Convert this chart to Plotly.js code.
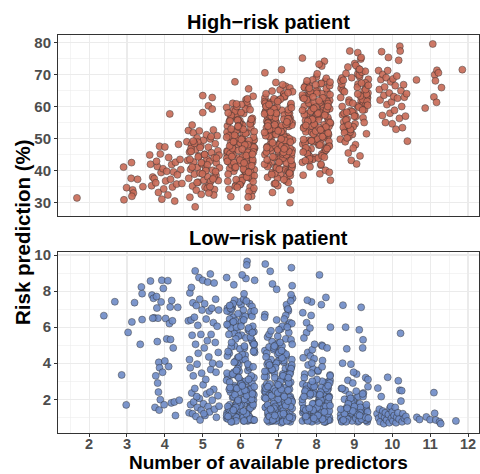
<!DOCTYPE html>
<html>
<head>
<meta charset="utf-8">
<script src="https://cdn.plot.ly/plotly-3.0.1.min.js"></script>
<style>html,body{margin:0;padding:0;background:#fff;}#chart{width:480px;height:474px;}</style>
</head>
<body>
<div id="chart"></div>
<script>
// ---------- High-risk patient (jittered points, grouped by number of predictors) ----------
const hi2x = [1.68];
const hi2y = [31.5];
const hi3x = [2.91,2.92,2.99,3.12,3.11,3.15,3.17,3.13,3.28,3.42];
const hi3y = [41.1,30.9,34.7,42.5,37.6,34.0,33.0,32.0,37.3,35.0];
const hi4x = [3.60,3.62,3.65,3.68,3.72,3.76,3.80,3.83,3.86,3.88,3.90,3.92,3.95,3.97,4.00,4.02,4.05,4.08,4.10,4.13,4.15,4.18,4.20,4.23,4.26,4.28,4.31,4.36,4.40,4.42,4.45,4.33,3.78];
const hi4y = [44.9,42.0,35.3,38.0,37.5,36.2,41.3,33.2,47.6,45.2,39.4,31.1,40.6,34.3,47.4,36.8,39.8,32.4,44.1,57.7,37.3,41.9,34.9,39.6,30.5,42.6,35.8,48.2,43.5,40.3,36.0,38.7,42.9];
const hi5x = [4.58,4.60,4.62,4.63,4.65,4.66,4.68,4.70,4.72,4.73,4.75,4.76,4.78,4.80,4.81,4.83,4.85,4.86,4.88,4.90,4.91,4.93,4.95,4.96,4.98,5.00,5.00,5.02,5.03,5.05,5.06,5.08,5.10,5.11,5.13,5.15,5.15,5.17,5.18,5.20,5.21,5.23,5.25,5.25,5.26,5.28,5.30,5.31,5.33,5.35,5.36,5.38,5.40,5.41,5.43,5.44,5.29,4.69,4.87,5.12,
4.66,5.30,4.93,5.12,4.72,5.22,4.85,5.05,5.34,4.78,5.16,4.96,4.69,5.27,4.88,5.08,4.75,5.19,5.36,4.99];
const hi5y = [49.0,43.2,52.5,37.6,45.8,31.7,40.4,48.1,54.2,35.2,51.8,42.7,38.9,28.7,46.5,33.9,50.2,41.0,36.4,44.6,52.4,39.2,47.8,32.6,42.1,63.4,58.1,49.5,37.0,45.1,34.8,40.7,51.2,43.6,38.1,60.2,47.3,35.6,42.9,49.9,36.7,45.6,62.8,59.2,40.1,52.7,44.0,34.1,48.4,38.5,42.4,50.9,46.2,36.9,44.8,40.9,32.4,46.9,48.9,41.8,
43.5,38.0,47.2,34.5,41.1,50.6,36.3,45.0,39.7,48.5,33.0,42.5,46.0,37.4,44.3,40.0,49.2,35.0,43.9,39.0];
const hi6x = [5.64,5.96,6.26,5.77,6.10,6.34,5.87,6.19,5.69,6.03,6.30,5.82,6.14,5.66,6.07,6.23,5.91,6.32,5.74,6.12,5.98,6.28,5.80,6.16,5.68,6.05,6.25,5.86,6.36,5.93,
6.21,5.72,6.09,5.63,6.31,5.90,6.01,5.75,6.18,6.37,5.84,6.08,5.69,6.26,5.95,6.14,5.79,6.35,5.88,6.03,5.65,6.20,5.92,6.29,5.81,6.11,5.71,6.33,5.99,6.17,
5.85,6.24,5.67,6.06,6.31,5.78,6.13,5.97,6.36,5.73,6.09,5.89,6.22,5.64,6.02,6.27,5.83,6.15,5.70,6.04,6.34,5.76,6.20,5.91,6.32,5.94,6.10,5.74,6.18,5.86,
6.08,5.80,6.29,5.97,6.16,5.67,6.23,5.86,6.04,6.32,5.74,6.12,5.93,6.26,5.64,6.19,5.90,6.35,5.78,6.00,
6.05,5.70,6.17,5.92,6.35,5.76,6.27,5.88,6.01,5.66,6.22,5.82,6.31,5.98,6.13,5.72,6.36,5.94,6.19,5.63,6.25,5.85,6.07,5.79,6.33,5.90,6.15,5.75,6.29,5.99,
5.75,6.12,5.94,6.30,5.65,6.02,6.20,5.84,6.34,5.89,6.07,5.71,6.25,5.98,6.16,5.63,6.28,5.91,6.11,5.77,6.36,5.87,6.04,5.67,6.21,5.93,6.31,5.81,6.09,5.72];
const hi6y = [45.2,52.8,38.6,57.1,41.9,49.3,35.4,60.2,43.7,54.5,47.9,39.8,62.1,36.7,51.4,44.6,58.3,33.8,48.7,41.2,
55.6,37.5,46.4,61.4,42.8,50.1,34.9,56.9,40.3,53.2,65.5,45.9,38.1,59.7,43.1,49.8,36.2,52.1,28.5,47.0,
41.6,57.8,34.2,55.0,44.0,39.3,61.0,46.8,50.7,37.0,53.9,42.3,48.2,32.0,58.9,45.5,40.7,63.2,35.8,51.9,
67.7,44.3,38.9,54.1,47.4,42.0,59.2,36.4,49.6,56.2,41.0,52.5,33.5,46.1,60.6,39.0,48.9,43.9,55.3,37.8,
50.5,45.0,31.8,57.4,42.6,53.6,40.0,47.6,62.4,35.1,49.1,44.9,38.3,54.8,41.4,51.1,46.6,58.6,36.9,43.4,
31.9,48.4,55.9,39.6,52.0,45.7,60.0,34.5,50.3,42.2,
44.2,50.8,39.1,55.7,47.3,41.8,53.4,37.2,58.1,46.0,49.4,42.5,56.3,35.6,51.6,45.3,38.4,54.0,48.1,43.8,
59.0,40.9,52.9,46.9,36.6,50.0,44.7,57.2,41.5,48.6,53.0,39.9,46.3,55.2,42.9,49.7,37.9,51.0,45.8,60.8,
40.5,47.7,54.6,43.3,38.0,50.4,56.0,34.8,48.0,44.4,52.2,41.1,46.7,58.0,39.5,53.8,45.1,49.0,42.4,55.5];
const hi7x = [6.85,7.24,6.67,7.06,7.31,6.78,7.13,6.97,7.36,6.73,7.09,6.89,7.22,6.64,7.02,7.27,6.83,7.15,6.70,7.04,7.34,6.76,7.20,6.91,7.32,6.94,7.10,6.74,7.18,6.86,
7.08,6.80,7.29,6.97,7.16,6.67,7.23,6.86,7.04,7.32,6.74,7.12,6.93,7.26,6.64,7.19,6.90,7.35,6.78,7.00,7.30,6.84,7.09,6.71,7.22,6.96,7.37,6.81,7.14,6.68,
6.64,6.96,7.26,6.77,7.10,7.34,6.87,7.19,6.69,7.03,7.30,6.82,7.14,6.66,7.07,7.23,6.91,7.32,6.74,7.12,6.98,7.28,6.80,7.16,6.68,7.05,7.25,6.86,7.36,6.93,
7.21,6.72,7.09,6.63,7.31,6.90,7.01,6.75,7.18,7.37,6.84,7.08,6.69,7.26,6.95,7.14,6.79,7.35,6.88,7.03,6.65,7.20,6.92,7.29,6.81,7.11,6.71,7.33,6.99,7.17,
6.63,7.15,6.83,7.28,6.95,
6.75,7.12,6.94,7.30,6.65,7.02,7.20,6.84,7.34,6.89,7.07,6.71,7.25,6.98,7.16,6.63,7.28,6.91,7.11,6.77,7.36,6.87,7.04,6.67,7.21,6.93,7.31,6.81,7.09,6.72,
7.05,6.70,7.17,6.92,7.35,6.76,7.27,6.88,7.01,6.66,7.22,6.82,7.31,6.98,7.13,6.72,7.36,6.94,7.19,6.63,7.25,6.85,7.07,6.79,7.33,6.90,7.15,6.75,7.29,6.99];
const hi7y = [52.3,44.8,60.1,38.7,56.4,48.2,63.5,41.5,54.9,46.7,58.8,35.9,50.6,62.7,43.3,53.8,39.4,57.3,47.5,65.2,
42.1,51.7,36.8,59.5,45.4,55.1,49.0,61.3,40.6,53.0,71.5,46.2,57.9,37.6,50.2,64.0,43.8,55.8,48.8,34.0,
60.7,52.7,41.0,58.1,45.0,66.3,39.1,54.2,47.1,62.0,30.0,51.2,44.2,56.7,38.2,59.9,49.5,42.7,63.9,53.4,
70.5,46.9,36.3,57.0,50.9,44.5,61.8,40.2,55.4,48.5,65.8,52.0,37.2,58.5,43.0,54.6,47.8,60.4,41.8,51.5,
35.3,56.1,49.8,63.0,45.8,53.5,39.8,59.2,46.4,67.5,42.4,55.0,50.0,61.5,38.5,57.6,44.0,52.5,48.0,64.6,
33.2,54.0,47.2,59.0,40.9,56.0,51.0,45.6,62.4,43.6,58.3,49.2,36.0,55.7,53.1,66.8,41.3,60.9,46.0,50.4,
57.7,44.7,64.8,39.5,52.9,
50.7,43.9,57.5,47.0,61.0,40.4,54.4,48.7,59.6,44.1,52.2,37.9,56.2,46.5,63.2,42.0,50.0,55.7,45.2,58.8,
41.4,53.2,48.3,60.0,44.9,51.3,39.6,57.0,47.7,54.8,62.3,43.4,49.4,56.5,40.8,52.8,46.0,59.3,42.6,50.9,
55.2,38.8,48.9,61.6,45.7,53.9,41.9,57.9,47.3,51.9,64.3,44.3,49.9,58.2,43.2,54.3,46.8,60.6,39.2,52.4];
const hi8x = [8.08,7.80,8.29,7.97,8.16,7.67,8.23,7.86,8.04,8.32,7.74,8.12,7.93,8.26,7.64,8.19,7.90,8.35,7.78,8.00,8.30,7.84,8.09,7.71,8.22,7.96,8.37,7.81,8.14,7.68,
8.21,7.72,8.09,7.63,8.31,7.90,8.01,7.75,8.18,8.37,7.84,8.08,7.69,8.26,7.95,8.14,7.79,8.35,7.88,8.03,7.65,8.20,7.92,8.29,7.81,8.11,7.71,8.33,7.99,8.17,
7.63,8.15,7.83,8.28,7.95,8.21,7.73,8.10,7.88,8.33,8.02,7.68,8.24,7.79,8.06,
7.64,7.96,8.26,7.77,8.10,8.34,7.87,8.19,7.69,8.03,8.30,7.82,8.14,7.66,8.07,8.23,7.91,8.32,7.74,8.12,7.98,8.28,7.80,8.16,7.68,8.05,8.25,7.86,8.36,7.93,
8.05,7.70,8.17,7.92,8.35,7.76,8.27,7.88,8.01,7.66,8.22,7.82,8.31,7.98,8.13,7.72,8.36,7.94,8.19,7.63,8.25,7.85,8.07,7.79,8.33,7.90,8.15,7.75,8.29,7.99,
7.75,8.12,7.94,8.30,7.65,8.02,8.20,7.84,8.34,7.89,8.07,7.71,8.25,7.98,8.16,7.63,8.28,7.91,8.11,7.77,8.36,7.87,8.04,7.67,8.21,7.93,8.31,7.81,8.09,7.72];
const hi8y = [57.2,49.5,64.3,44.1,60.8,53.6,67.9,46.8,58.9,51.2,62.5,41.7,55.4,65.6,48.3,59.7,43.5,61.9,52.8,69.2,
47.4,56.3,39.0,63.4,50.6,58.2,54.7,66.4,45.2,60.1,74.1,52.1,61.2,42.6,55.9,68.3,48.9,57.8,53.0,37.0,
63.9,56.8,46.1,62.0,50.0,72.6,44.8,59.3,51.9,65.0,38.6,54.3,49.0,60.5,43.0,67.1,55.6,47.9,64.8,58.6,
75.1,52.4,41.2,61.6,56.0,45.9,66.9,50.8,59.0,53.8,70.2,57.5,40.1,63.0,48.0,62.8,54.0,68.8,46.4,58.0,
39.5,60.3,51.5,65.9,49.8,56.6,44.4,64.0,53.3,73.2,47.0,59.6,55.1,62.3,42.0,57.0,50.3,61.0,52.6,66.0,
43.9,58.4,49.3,63.7,54.9,
55.8,48.6,62.7,51.4,66.5,45.3,59.1,53.9,64.1,49.7,57.3,43.7,60.9,52.3,67.2,47.1,55.0,61.4,50.2,63.6,
46.4,58.5,53.4,65.3,49.1,56.1,44.6,62.1,52.0,59.8,68.0,48.4,54.5,60.0,45.8,57.6,51.1,64.6,47.6,56.0,
61.8,43.1,53.6,66.8,50.6,58.8,46.9,63.0,52.7,55.4,67.6,49.3,57.9,62.5,44.2,59.4,51.7,65.7,48.0,54.1];
const hi9x = [9.21,8.72,9.09,8.63,9.31,8.90,9.01,8.75,9.18,9.37,8.84,9.08,8.69,9.26,8.95,9.14,8.79,9.35,8.88,9.03,8.65,9.20,8.92,9.29,8.81,9.11,8.71,9.33,8.99,9.17,
8.85,9.24,8.67,9.06,9.31,8.78,9.13,8.97,9.36,8.73,9.09,8.89,9.22,8.64,9.02,9.27,8.83,9.15,8.70,9.04,9.34,8.76,9.20,8.91,9.32,8.94,9.10,8.74,9.18,8.86,
9.08,8.80,9.29,8.97,9.16,8.67,9.23,8.86,9.04,9.32,8.74,9.12,8.93,9.26,8.64,9.19,8.90,9.35,8.78,9.00,9.30,8.84,9.09,8.71,9.22,8.96,9.37,8.81,9.14,8.68];
const hi9y = [63.5,55.2,70.1,49.8,66.2,58.7,73.4,52.6,61.8,68.5,45.5,60.2,57.4,64.9,51.3,69.3,54.0,62.7,77.3,48.1,
65.7,59.5,43.2,67.4,56.1,71.8,53.5,63.0,58.0,74.8,50.5,61.1,66.9,42.1,60.8,55.8,69.8,47.0,64.2,57.9,
76.8,52.0,62.2,68.0,54.6,59.0,72.3,44.6,65.0,56.9,61.6,49.0,70.7,53.0,63.8,58.4,67.0,51.8,75.3,62.0,
66.0,58.2,71.0,53.7,63.3,68.9,56.5,61.3,72.8,51.5,64.6,59.8,69.0,55.0,62.8,67.3,52.8,60.4,70.3,57.0,
65.3,54.2,63.9,68.2,58.9,61.0,66.6,50.2,71.6,60.0];
const hi10x = [9.64,9.66,9.68,9.70,9.72,9.74,9.75,9.78,9.80,9.82,9.84,9.86,9.88,9.90,9.92,9.94,9.96,9.98,10.00,10.02,10.04,10.06,10.08,10.10,10.12,10.14,10.17,10.19,10.20,10.21,10.23,10.25,10.27,10.30,10.32,10.35,10.38,10.40];
const hi10y = [71.2,65.3,62.0,68.4,77.1,57.2,70.0,63.5,66.1,55.0,69.0,60.6,71.2,75.3,64.2,57.9,67.7,61.4,54.6,68.6,63.1,58.8,66.5,52.9,69.5,62.6,74.4,56.3,78.8,77.3,64.9,60.0,53.4,66.8,62.9,57.0,64.0,49.2];
const hi11x = [10.64,10.87,11.07,11.10,11.12,11.18,11.22,11.14,11.30,11.17,11.85];
const hi11y = [68.3,59.5,79.5,63.0,69.9,71.3,70.5,68.0,65.9,61.3,71.5];

// ---------- Low-risk patient ----------
const lo3x = [2.39,2.68,2.86,2.98,3.03,3.13,3.20,3.35,3.38,3.40,3.40];
const lo3y = [6.64,7.41,3.35,1.69,5.71,6.29,7.36,5.05,8.23,7.86,6.42];
const lo4x = [3.62,3.66,3.70,3.72,3.74,3.76,3.78,3.79,3.80,3.81,3.82,3.83,3.84,3.85,3.86,3.88,3.90,3.92,3.94,3.96,3.98,4.00,4.02,4.05,4.08,4.10,4.12,4.14,4.15,4.17,4.18,4.20,4.22,4.25,4.28,4.34,4.38,3.68];
const lo4y = [8.56,7.78,7.60,6.52,1.55,3.30,7.70,7.06,5.20,2.90,6.50,2.40,4.05,1.40,3.75,1.98,7.40,8.60,3.50,8.15,1.70,4.12,6.48,5.35,8.58,3.82,6.20,7.12,5.32,1.80,7.48,6.35,4.85,1.85,1.10,7.10,1.95,6.50];
const lo5x = [4.62,4.64,4.65,4.66,4.67,4.68,4.69,4.70,4.71,4.72,4.73,4.74,4.75,4.76,4.78,4.79,4.80,4.81,4.82,4.83,4.85,4.86,4.87,4.88,4.90,4.91,4.92,4.93,4.95,4.96,4.97,4.98,5.00,5.01,5.02,5.04,5.05,5.06,5.08,5.09,5.10,5.12,5.13,5.14,5.16,5.17,5.18,5.20,5.21,5.22,5.24,5.25,5.26,5.28,5.29,5.30,5.31,5.33,5.34,5.35,5.36,5.38,5.40,5.41,5.42,5.43,5.44,4.84,5.03,5.19];
const lo5y = [6.35,1.25,4.20,7.90,3.75,1.70,6.40,8.20,2.35,5.55,1.20,7.35,3.30,1.85,6.55,2.60,9.12,5.05,1.05,7.20,3.95,1.55,6.10,4.55,8.75,2.05,7.55,0.85,5.60,1.40,3.45,6.95,8.60,2.80,1.75,4.85,7.30,1.10,3.10,6.45,2.30,5.25,8.50,1.60,4.35,6.90,1.30,8.95,3.65,5.60,7.05,1.95,4.00,6.25,2.55,8.45,1.45,5.15,7.55,3.50,1.00,6.05,2.20,4.60,6.95,1.62,3.95,2.15,1.20,2.40];
const lo6x = [6.21,5.72,6.09,5.63,6.31,5.90,6.01,5.75,6.18,6.37,5.84,6.08,5.69,6.26,5.95,6.14,5.79,6.35,5.88,6.03,5.65,6.20,5.92,6.29,5.81,6.11,5.71,6.33,5.99,6.17,
5.64,5.96,6.26,5.77,6.10,6.34,5.87,6.19,5.69,6.03,6.30,5.82,6.14,5.66,6.07,6.23,5.91,6.32,5.74,6.12,5.98,6.28,5.80,6.16,5.68,6.05,6.25,5.86,6.36,5.93,
6.08,5.80,6.29,5.97,6.16,5.67,6.23,5.86,6.04,6.32,5.74,6.12,5.93,6.26,5.64,6.19,5.90,6.35,5.78,6.00,6.30,5.84,6.09,5.71,6.22,5.96,6.37,5.81,6.14,5.68,
5.85,6.24,5.67,6.06,6.31,5.78,6.13,5.97,6.36,5.73,6.09,5.89,6.22,5.64,6.02,6.27,5.83,6.15,5.70,6.04,6.34,5.76,6.20,5.91,6.32,5.94,6.10,5.74,6.18,5.86,
5.63,6.15,5.83,6.28,5.95,
6.05,5.70,6.17,5.92,6.35,5.76,6.27,5.88,6.01,5.66,6.22,5.82,6.31,5.98,6.13,5.72,6.36,5.94,6.19,5.63,6.25,5.85,6.07,5.79,6.33,5.90,6.15,5.75,6.29,5.99,
5.75,6.12,5.94,6.30,5.65,6.02,6.20,5.84,6.34,5.89,6.07,5.71,6.25,5.98,6.16,5.63,6.28,5.91,6.11,5.77,6.36,5.87,6.04,5.67,6.21,5.93,6.31,5.81,6.09,5.72,
6.12,5.69,6.27,5.92,6.35,5.80,6.04,5.64,6.19,5.87,6.30,5.98,5.73,6.23,5.83,6.08,6.33,5.76,6.15,5.67,6.01,6.26,5.89,6.36,5.95,6.21,5.71,6.10,5.81,6.31];
const lo6y = [1.45,6.85,2.30,0.95,5.20,1.80,7.25,3.35,1.15,4.60,2.75,0.80,6.20,1.60,3.90,8.70,2.10,5.75,1.05,2.95,
7.05,1.35,4.30,0.90,6.55,2.45,1.70,5.10,3.05,9.65,1.25,7.40,2.60,0.75,4.85,1.95,6.35,3.60,1.50,5.55,
2.20,8.35,1.10,3.25,6.95,1.85,4.05,0.85,7.20,2.85,1.40,5.90,2.50,9.45,1.00,6.60,3.15,1.65,4.75,2.05,
7.55,1.20,5.30,2.70,0.95,6.10,3.75,1.55,8.90,2.35,1.30,4.45,6.75,1.90,3.45,0.80,5.80,2.25,7.10,1.15,
2.90,4.95,1.75,6.45,1.05,3.55,8.60,2.15,5.40,1.45,2.65,7.30,0.90,4.20,1.60,6.25,3.00,1.35,5.05,2.40,
7.85,1.00,3.85,6.90,1.70,2.55,5.65,1.25,4.55,2.80,0.85,7.00,1.95,3.30,6.05,1.50,2.00,5.95,1.10,4.10,
8.75,2.45,1.40,6.70,3.20,
1.15,2.55,0.90,1.85,3.20,1.40,2.10,0.80,2.85,1.60,1.05,3.50,1.75,2.40,0.95,1.30,2.70,1.90,0.85,3.05,
1.50,2.25,1.00,3.40,1.70,2.60,1.20,0.75,2.00,1.45,4.90,6.60,5.50,7.15,4.40,6.30,5.85,7.50,4.65,6.00,
1.35,2.95,0.90,1.65,2.20,1.10,3.30,1.80,2.50,1.25,0.85,1.55,2.75,1.05,3.10,1.95,2.30,1.40,0.80,2.65,
4.20,5.60,6.85,3.70,5.05,7.30,4.50,6.15,3.95,5.35,6.60,4.80,7.05,5.80,4.05,6.40,3.80,5.15,7.45,4.65,
6.05,5.45,3.60,6.90,4.35,5.95,7.20,4.95,6.30,5.70];
const lo7x = [7.08,6.80,7.29,6.97,7.16,6.67,7.23,6.86,7.04,7.32,6.74,7.12,6.93,7.26,6.64,7.19,6.90,7.35,6.78,7.00,7.30,6.84,7.09,6.71,7.22,6.96,7.37,6.81,7.14,6.68,
6.85,7.24,6.67,7.06,7.31,6.78,7.13,6.97,7.36,6.73,7.09,6.89,7.22,6.64,7.02,7.27,6.83,7.15,6.70,7.04,7.34,6.76,7.20,6.91,7.32,6.94,7.10,6.74,7.18,6.86,
7.21,6.72,7.09,6.63,7.31,6.90,7.01,6.75,7.18,7.37,6.84,7.08,6.69,7.26,6.95,7.14,6.79,7.35,6.88,7.03,6.65,7.20,6.92,7.29,6.81,7.11,6.71,7.33,6.99,7.17,
6.64,6.96,7.26,6.77,7.10,7.34,6.87,7.19,6.69,7.03,7.30,6.82,7.14,6.66,7.07,7.23,6.91,7.32,6.74,7.12,6.98,7.28,6.80,7.16,6.68,7.05,7.25,6.86,7.36,6.93,
6.63,7.15,6.83,7.28,6.95,
6.75,7.12,6.94,7.30,6.65,7.02,7.20,6.84,7.34,6.89,7.07,6.71,7.25,6.98,7.16,6.63,7.28,6.91,7.11,6.77,7.36,6.87,7.04,6.67,7.21,6.93,7.31,6.81,7.09,6.72,
7.05,6.70,7.17,6.92,7.35,6.76,7.27,6.88,7.01,6.66,7.22,6.82,7.31,6.98,7.13,6.72,7.36,6.94,7.19,6.63,7.25,6.85,7.07,6.79,7.33,6.90,7.15,6.75,7.29,6.99,
7.12,6.69,7.27,6.92,7.35,6.80,7.04,6.64,7.19,6.87,7.30,6.98,6.73,7.23,6.83,7.08,7.33,6.76,7.15,6.67,7.01,7.26,6.89,7.36];
const lo7y = [1.20,3.85,0.85,5.10,1.65,2.40,7.05,1.05,4.30,2.05,0.75,3.30,1.45,6.15,2.70,1.00,4.85,1.90,9.10,2.25,
1.30,3.60,0.95,5.45,1.75,2.90,7.60,1.15,4.05,2.50,0.80,3.10,1.55,5.90,2.15,1.10,4.60,1.85,8.30,2.60,
1.35,3.45,0.90,6.70,1.60,2.80,5.20,1.25,3.95,2.35,9.30,1.00,4.40,1.70,2.95,0.85,6.05,2.10,3.70,1.40,
7.25,1.15,4.95,2.45,0.75,3.20,1.80,5.60,2.65,1.05,8.40,1.50,3.55,0.95,6.40,2.20,1.30,4.20,1.95,2.75,
9.50,1.20,5.00,2.55,0.80,3.40,1.65,7.80,2.00,1.10,4.70,1.45,6.90,2.30,0.90,3.80,1.75,5.35,2.85,1.25,
6.25,1.00,4.15,2.40,0.70,3.05,1.60,7.45,2.20,1.35,4.50,0.85,5.80,1.90,3.25,1.15,7.00,2.60,1.50,4.00,
6.55,1.05,3.65,2.10,8.10,
1.10,2.30,0.80,3.60,1.55,2.75,4.50,1.25,1.95,0.90,3.15,1.70,2.50,4.10,1.00,2.10,3.80,1.40,0.75,2.85,
1.85,4.75,1.15,2.60,3.35,0.95,1.60,2.20,4.30,1.30,3.00,0.85,1.75,2.45,3.90,1.05,2.90,1.50,4.60,2.05,
0.80,1.35,3.50,2.35,1.20,2.70,0.95,4.00,1.65,3.25,1.90,0.85,2.55,1.45,3.70,1.10,2.15,4.90,1.00,2.80,
3.30,4.55,5.70,3.75,6.20,4.20,5.15,3.55,6.65,4.85,3.40,5.50,4.05,6.00,3.65,4.70,5.30,3.90,6.45,4.35,
5.85,3.20,4.95,5.05];
const lo8x = [7.64,7.96,8.26,7.77,8.10,8.34,7.87,8.19,7.69,8.03,8.30,7.82,8.14,7.66,8.07,8.23,7.91,8.32,7.74,8.12,7.98,8.28,7.80,8.16,7.68,8.05,8.25,7.86,8.36,7.93,
8.08,7.80,8.29,7.97,8.16,7.67,8.23,7.86,8.04,8.32,7.74,8.12,7.93,8.26,7.64,8.19,7.90,8.35,7.78,8.00,8.30,7.84,8.09,7.71,8.22,7.96,8.37,7.81,8.14,7.68,
7.85,8.24,7.67,8.06,8.31,7.78,8.13,7.97,8.36,7.73,8.09,7.89,8.22,7.64,8.02,8.27,7.83,8.15,7.70,8.04,8.34,7.76,8.20,7.91,8.32,7.94,8.10,7.74,8.18,7.86,
7.63,8.15,7.83,8.28,7.95,8.21,7.73,8.10,7.88,8.33,
8.05,7.70,8.17,7.92,8.35,7.76,8.27,7.88,8.01,7.66,8.22,7.82,8.31,7.98,8.13,7.72,8.36,7.94,8.19,7.63,8.25,7.85,8.07,7.79,8.33,7.90,8.15,7.75,8.29,7.99,
7.75,8.12,7.94,8.30,7.65,8.02,8.20,7.84,8.34,7.89,8.07,7.71,8.25,7.98,8.16,7.63,8.28,7.91,8.11,7.77,8.36,7.87,8.04,7.67,8.21,7.93,8.31,7.81,8.09,7.72];
const lo8y = [1.25,2.80,0.80,4.60,1.55,2.15,7.40,1.00,3.40,1.80,0.90,2.55,5.00,1.35,2.00,0.75,3.70,1.60,6.25,2.35,
1.10,2.95,0.85,4.15,1.45,2.25,7.65,1.05,3.05,1.75,8.90,1.20,2.65,0.95,4.95,1.50,2.10,0.80,3.55,1.90,
5.70,1.30,2.45,1.00,6.80,1.65,2.70,0.85,3.90,1.15,2.20,4.40,1.40,0.90,2.90,1.70,6.00,1.05,2.50,3.20,
1.25,0.75,5.40,1.85,2.60,1.10,7.25,1.50,3.35,0.95,2.05,4.75,1.35,2.85,0.80,1.95,5.95,1.20,2.40,3.60,
1.00,7.50,1.60,2.30,0.85,4.25,1.45,2.75,1.15,6.65,1.80,3.00,0.90,2.15,5.05,1.30,2.55,1.05,4.00,1.70,
1.15,2.45,0.85,1.70,2.90,1.30,2.05,0.75,3.10,1.50,1.00,2.20,1.85,0.90,2.65,1.40,3.30,1.10,2.35,0.80,
1.60,2.80,1.25,0.95,2.10,1.75,3.80,1.05,2.50,1.45,0.85,1.95,2.70,1.20,4.30,1.55,0.75,2.30,1.35,3.00,
1.80,1.00,2.60,1.15,0.90,2.00,4.85,1.40,2.40,0.80,1.65,3.45,1.10,2.15,1.30,0.95,2.75,1.50,2.25,1.05];
const lo9x = [8.85,9.24,8.67,9.06,9.31,8.78,9.13,8.97,9.36,8.73,9.09,8.89,9.22,8.64,9.02,9.27,8.83,9.15,8.70,9.04,9.34,8.76,9.20,8.91,9.32,8.94,9.10,8.74,9.18,8.86,
8.64,8.96,9.26,8.77,9.10,9.34,8.87,9.19,8.69,9.03,9.30,8.82,9.14,8.66,9.07,9.23,8.91,9.32,8.74,9.12,8.98,9.28,8.80,9.16,8.68,9.05,9.25,8.86,9.36,8.93,
9.08,8.80,9.29,8.97,9.16,8.67,9.23,8.86,9.04,9.32,8.74,9.12,8.93,9.26,8.64,9.19,8.90,9.35,8.78,9.00,9.30,8.84,9.09,8.71,9.22,8.96,9.37,8.81,9.14,8.68];
const lo9y = [1.20,2.35,0.80,3.40,1.55,0.95,5.85,1.05,2.70,1.40,0.75,1.85,4.85,1.15,2.05,0.90,3.05,1.30,7.22,1.65,
0.85,2.50,1.00,3.95,1.45,0.80,2.15,1.25,7.10,1.70,0.95,2.90,1.10,6.00,1.50,0.75,2.25,1.35,4.00,1.05,
3.20,0.90,1.75,2.60,1.20,5.30,1.60,0.85,2.00,1.40,3.50,1.00,4.80,1.55,0.80,2.45,1.15,1.90,3.10,1.25,
1.10,1.55,0.85,1.90,1.25,0.75,2.15,1.40,0.95,1.70,1.20,0.80,1.85,1.05,1.45,0.90,2.05,1.30,0.75,1.60,
1.00,1.75,1.15,0.85,2.30,1.35,0.95,1.50,1.10,2.60];
const lo10x = [9.60,9.62,9.64,9.66,9.68,9.71,9.72,9.75,9.78,9.80,9.82,9.85,9.88,9.90,9.92,9.94,9.96,9.98,10.00,10.02,10.05,10.08,10.10,10.12,10.15,10.16,10.18,10.20,10.22,10.23,10.25,10.26,10.28,10.32,10.36,10.40];
const lo10y = [1.20,2.62,0.95,1.45,0.75,2.15,1.10,1.35,0.65,1.00,1.25,0.85,3.22,1.15,0.70,1.50,1.60,0.95,1.30,0.80,1.10,1.55,0.70,1.00,1.25,3.03,0.90,2.50,5.66,1.90,2.48,0.75,1.20,0.95,1.05,0.80];
const lo11x = [10.65,10.72,10.90,11.00,11.10,11.12,11.15,11.25,11.28,11.68];
const lo11y = [1.00,0.88,1.02,0.87,2.37,1.22,0.85,0.75,0.65,0.80];

// ---------- labels ----------
const topTitle = 'High\u2212risk patient';
const bottomTitle = 'Low\u2212risk patient';
const yTitle = 'Risk prediction (%)';
const xTitle = 'Number of available predictors';

const hiX = [].concat(hi2x, hi3x, hi4x, hi5x, hi6x, hi7x, hi8x, hi9x, hi10x, hi11x);
const hiY = [].concat(hi2y, hi3y, hi4y, hi5y, hi6y, hi7y, hi8y, hi9y, hi10y, hi11y);
const loX = [].concat(lo3x, lo4x, lo5x, lo6x, lo7x, lo8x, lo9x, lo10x, lo11x);
const loY = [].concat(lo3y, lo4y, lo5y, lo6y, lo7y, lo8y, lo9y, lo10y, lo11y);

const FONT = 'Liberation Sans, Arial, Helvetica, sans-serif';
const mk = (fill) => ({size: 7, color: fill, opacity: 0.9, line: {color: 'rgba(45,45,45,0.85)', width: 0.6}});

const traces = [
  {x: hiX, y: hiY, type: 'scatter', mode: 'markers', xaxis: 'x', yaxis: 'y', marker: mk('rgb(200,106,86)'), hoverinfo: 'x+y'},
  {x: loX, y: loY, type: 'scatter', mode: 'markers', xaxis: 'x2', yaxis: 'y2', marker: mk('rgb(110,139,199)'), hoverinfo: 'x+y'}
];

const gridC = '#EBEBEB';
const tickFont = {family: FONT, size: 15, color: '#4D4D4D', weight: 'bold'};
const baseAxis = {
  showgrid: true, gridcolor: gridC, gridwidth: 1.1, zeroline: false,
  showline: true, mirror: true, linecolor: '#333333', linewidth: 1,
  ticks: 'outside', ticklen: 3, tickcolor: '#333333', tickwidth: 1,
  tickfont: tickFont, fixedrange: true
};
const xr = [1.18, 12.29];
const layout = {
  width: 480, height: 474,
  margin: {l: 58, r: 1, t: 35, b: 41},
  paper_bgcolor: '#FFFFFF', plot_bgcolor: '#FFFFFF',
  showlegend: false,
  font: {family: FONT},
  xaxis: Object.assign({}, baseAxis, {domain: [0, 1], anchor: 'y', range: xr, tick0: 0, dtick: 1,
    showticklabels: false, ticks: '', minor: {dtick: 0.5, showgrid: true, gridcolor: gridC, gridwidth: 0.55}}),
  yaxis: Object.assign({}, baseAxis, {domain: [0.5452, 1], anchor: 'x', range: [25.85, 82.3], tick0: 0, dtick: 10,
    minor: {dtick: 5, showgrid: true, gridcolor: gridC, gridwidth: 0.55}}),
  xaxis2: Object.assign({}, baseAxis, {domain: [0, 1], anchor: 'y2', range: xr, tick0: 0, dtick: 1, ticklabelstandoff: -5,
    tickfont: {family: FONT, size: 14.5, color: '#4D4D4D', weight: 'bold'},
    minor: {dtick: 0.5, showgrid: true, gridcolor: gridC, gridwidth: 0.55}}),
  yaxis2: Object.assign({}, baseAxis, {domain: [0, 0.4548], anchor: 'x2', range: [0.13, 10.17], tick0: 0, dtick: 2,
    minor: {dtick: 1, showgrid: true, gridcolor: gridC, gridwidth: 0.55}}),
  annotations: [
    {text: topTitle, xref: 'paper', yref: 'paper', x: 0.5, y: 1.033, xanchor: 'center', yanchor: 'middle', showarrow: false,
      font: {family: FONT, size: 20, color: '#000', weight: 'bold'}},
    {text: bottomTitle, xref: 'paper', yref: 'paper', x: 0.5, y: 0.49, xanchor: 'center', yanchor: 'middle', showarrow: false,
      font: {family: FONT, size: 20, color: '#000', weight: 'bold'}},
    {text: yTitle, xref: 'paper', yref: 'paper', x: -0.0855, y: 0.505, xanchor: 'center', yanchor: 'middle', textangle: -90, showarrow: false,
      font: {family: FONT, size: 20.5, color: '#000', weight: 'bold'}},
    {text: xTitle, xref: 'paper', yref: 'paper', x: 0.5, y: -0.1030, xanchor: 'center', yanchor: 'bottom', borderpad: 0, showarrow: false,
      font: {family: FONT, size: 19, color: '#000', weight: 'bold'}}
  ]
};

Plotly.newPlot('chart', traces, layout, {displayModeBar: false, staticPlot: true});
</script>
</body>
</html>
